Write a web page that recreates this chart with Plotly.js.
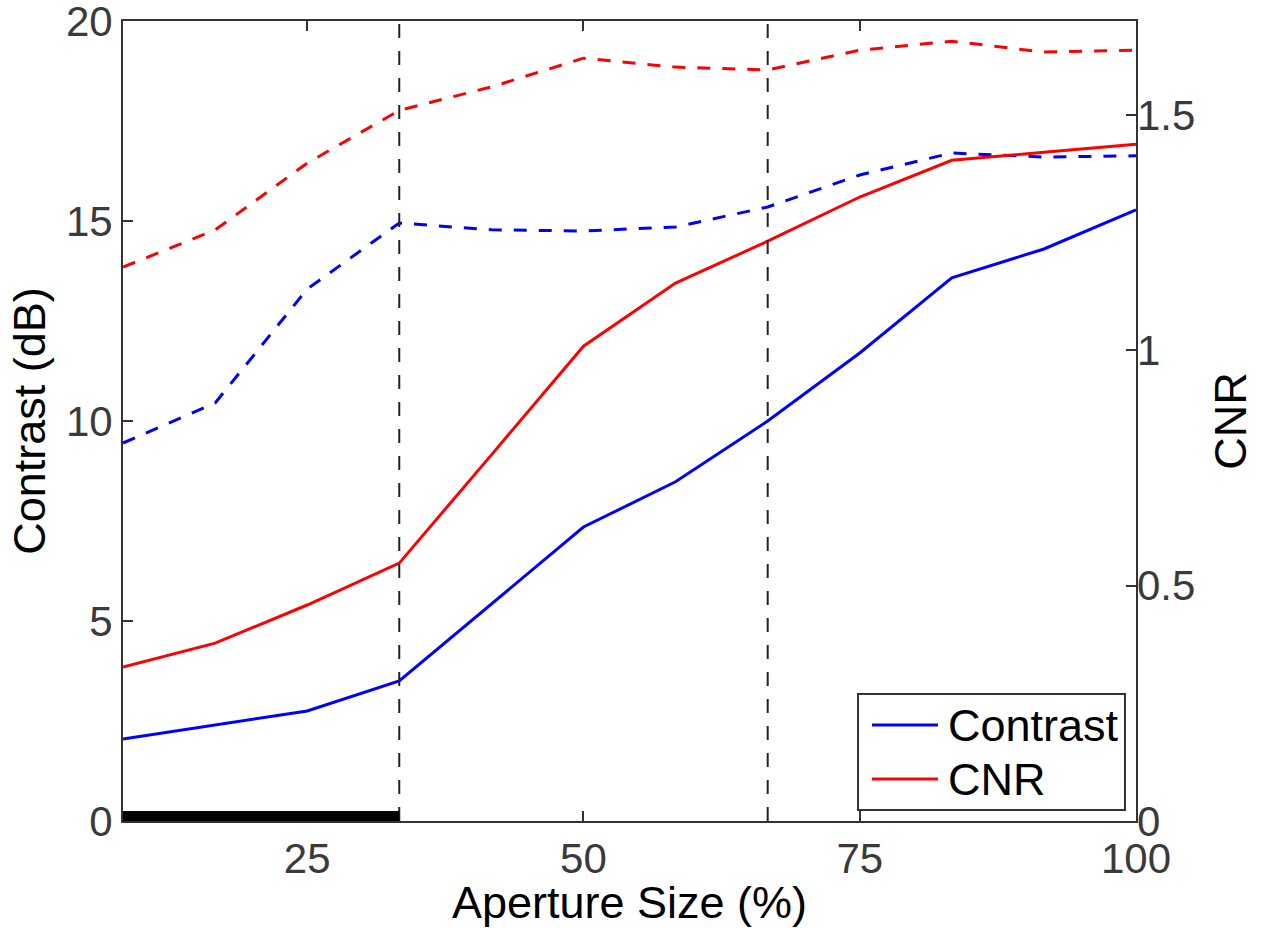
<!DOCTYPE html>
<html>
<head>
<meta charset="utf-8">
<script src="https://cdn.plot.ly/plotly-3.0.1.min.js"></script>
<style>html,body{margin:0;padding:0;background:#fff;}#chart{width:1270px;height:928px;}</style>
</head>
<body>
<div id="chart"></div>
<script>
// Aperture sizes (%)
var aperture = [8.33, 16.67, 25, 33.33, 41.67, 50, 58.33, 66.67, 75, 83.33, 91.67, 100];
// Contrast (dB), left axis
var contrastSolid  = [2.05, 2.4, 2.75, 3.5, 5.42, 7.35, 8.48, 10.0, 11.7, 13.58, 14.3, 15.28];
var contrastDashed = [9.45, 10.45, 13.3, 14.95, 14.78, 14.75, 14.85, 15.35, 16.15, 16.7, 16.6, 16.63];
// CNR, right axis
var cnrSolid  = [0.327, 0.378, 0.459, 0.548, 0.778, 1.009, 1.143, 1.232, 1.326, 1.404, 1.421, 1.438];
var cnrDashed = [1.177, 1.256, 1.398, 1.51, 1.56, 1.621, 1.602, 1.596, 1.638, 1.657, 1.634, 1.638];
// Vertical markers and baseline segment
var markerX = [33.33, 66.67];
var baselineX = [8.33, 33.33];

var xTicks = [25, 50, 75, 100];
var yTicks = [0, 5, 10, 15, 20];
var y2Ticks = [0, 0.5, 1, 1.5];
var legendNames = ['Contrast', 'CNR'];
var legendColors = ['#0000ff', '#ff0000'];

var FONT = 'Liberation Sans, Arial, Helvetica, sans-serif';
var AX = '#333333';

var traces = [
  {x: aperture, y: contrastDashed, mode: 'lines', line: {color: '#0000ff', width: 3, dash: '13px,12px'}, showlegend: false, yaxis: 'y'},
  {x: aperture, y: cnrDashed, mode: 'lines', line: {color: '#ff0000', width: 3, dash: '13px,12px'}, showlegend: false, yaxis: 'y2'},
  {x: aperture, y: contrastSolid, mode: 'lines', name: legendNames[0], line: {color: legendColors[0], width: 3}, showlegend: false, yaxis: 'y'},
  {x: aperture, y: cnrSolid, mode: 'lines', name: legendNames[1], line: {color: legendColors[1], width: 3}, showlegend: false, yaxis: 'y2'}
];

var shapes = markerX.map(function (v) {
  return {type: 'line', xref: 'x', yref: 'paper', x0: v, x1: v, y0: 0, y1: 1,
          line: {color: '#222222', width: 2, dash: '14px,13px'}, layer: 'above'};
});
shapes.push({type: 'rect', xref: 'x', yref: 'y', x0: baselineX[0], x1: baselineX[1], y0: 0, y1: 0.25,
             fillcolor: '#000000', line: {width: 0}, layer: 'above'});

// Legend box (drawn as shapes + text annotations, positioned in paper coords)
var legBox = {x0: 0.7256, x1: 0.9891, y0: 0.0138, y1: 0.1588};
var legRowY = [0.12, 0.0525];
shapes.push({type: 'rect', xref: 'paper', yref: 'paper', x0: legBox.x0, x1: legBox.x1, y0: legBox.y0, y1: legBox.y1,
             fillcolor: '#ffffff', line: {color: '#333333', width: 2}, layer: 'above'});
var annotations = [];
legendNames.forEach(function (name, i) {
  shapes.push({type: 'line', xref: 'paper', yref: 'paper', x0: 0.7394, x1: 0.8045, y0: legRowY[i], y1: legRowY[i],
               line: {color: legendColors[i], width: 3}, layer: 'above'});
  annotations.push({xref: 'paper', yref: 'paper', x: 0.8124, y: legRowY[i], xanchor: 'left', yanchor: 'middle',
                    text: name, showarrow: false, font: {family: FONT, size: 45, color: '#000000'}});
});

var layout = {
  width: 1270, height: 928,
  margin: {l: 123, r: 134, t: 21, b: 107},
  paper_bgcolor: '#ffffff', plot_bgcolor: '#ffffff',
  font: {family: FONT, color: '#000000'},
  showlegend: false,
  xaxis: {
    range: [8.33, 100], tickvals: xTicks, ticktext: xTicks.map(String),
    ticks: 'inside', ticklen: 10, tickwidth: 2, tickcolor: AX,
    showline: true, linecolor: AX, linewidth: 2, mirror: 'ticks',
    showgrid: false, zeroline: false, ticklabeloverflow: 'allow',
    tickfont: {family: FONT, size: 42, color: '#3a3a3a'},
    title: {text: 'Aperture Size (%)', font: {family: FONT, size: 45, color: '#000000'}, standoff: 0}
  },
  yaxis: {
    range: [0, 20], tickvals: yTicks, ticktext: yTicks.map(String),
    ticks: 'inside', ticklen: 10, tickwidth: 2, tickcolor: AX,
    showline: true, linecolor: AX, linewidth: 2, mirror: true,
    showgrid: false, zeroline: false, ticklabeloverflow: 'allow',
    tickfont: {family: FONT, size: 42, color: '#3a3a3a'},
    title: {text: 'Contrast (dB)', font: {family: FONT, size: 45, color: '#000000'}, standoff: 6}
  },
  yaxis2: {
    overlaying: 'y', side: 'right',
    range: [0, 1.7], tickvals: y2Ticks, ticktext: ['0', '0.5', '1', '1.5'],
    ticks: 'inside', ticklen: 10, tickwidth: 2, tickcolor: AX,
    showline: false, showgrid: false, zeroline: false, ticklabeloverflow: 'allow',
    tickfont: {family: FONT, size: 42, color: '#3a3a3a'},
    title: {text: 'CNR', font: {family: FONT, size: 45, color: '#000000'}, standoff: 20}
  },
  shapes: shapes,
  annotations: annotations
};

Plotly.newPlot('chart', traces, layout, {displayModeBar: false, staticPlot: true});
</script>
</body>
</html>
